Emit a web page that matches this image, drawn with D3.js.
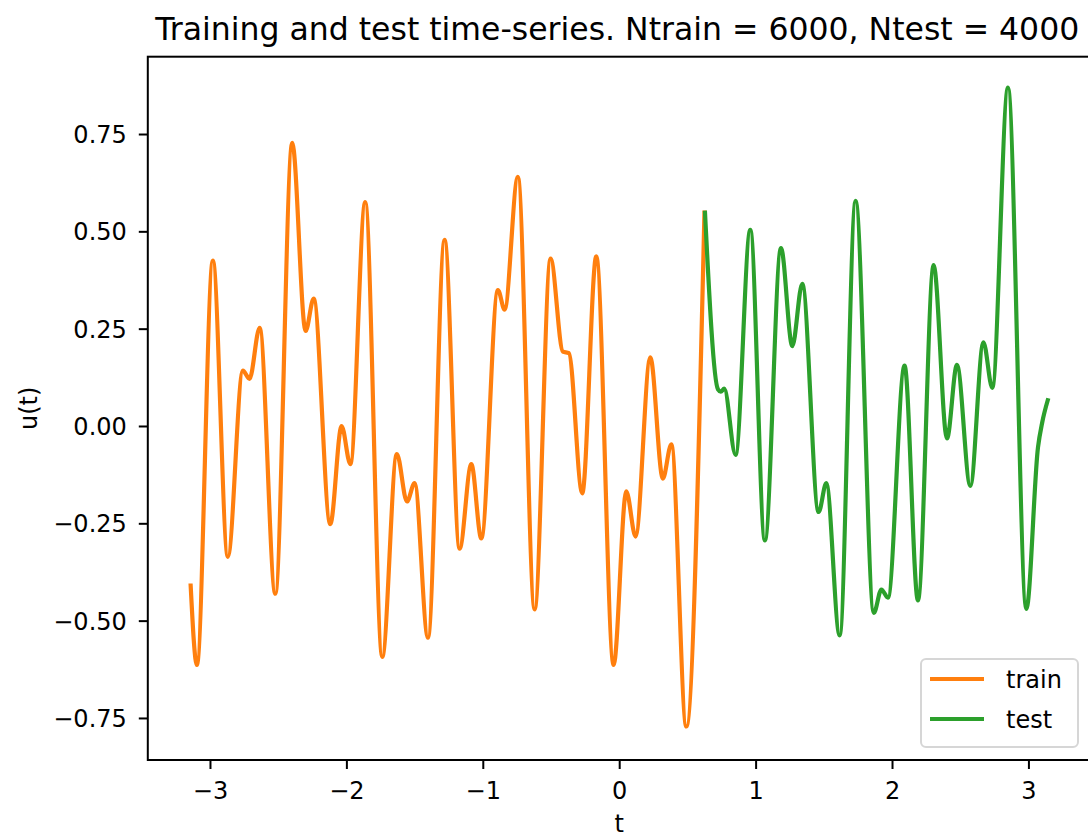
<!DOCTYPE html>
<html>
<head>
<meta charset="utf-8">
<script src="https://cdn.jsdelivr.net/npm/d3@7"></script>
<style>
  body { margin: 0; background: #fff; }
  svg { display: block; font-family: "DejaVu Sans", sans-serif; }
  .axis text { font-size: 24px; fill: #000; font-family: "DejaVu Sans", sans-serif; }
  .axis line { stroke: #000; stroke-width: 2; }
</style>
</head>
<body>
<svg id="chart" width="1088" height="835"></svg>
<script>
// Values (t, u(t)) at the turning points of the curves
const trainT = [-3.1416, -3.096, -2.979, -2.869, -2.759, -2.710, -2.636, -2.521, -2.397, -2.299,
  -2.240, -2.118, -2.035, -1.971, -1.862, -1.737, -1.630, -1.556, -1.500, -1.402,
  -1.280, -1.170, -1.084, -1.011, -0.889, -0.840, -0.743, -0.620, -0.503, -0.413,
  -0.369, -0.271, -0.168, -0.041, 0.052, 0.120, 0.228, 0.320, 0.382, 0.492, 0.625]
const trainU = [-0.410, -0.614, 0.425, -0.336, 0.142, 0.121, 0.252, -0.431, 0.727, 0.244,
  0.327, -0.252, 0.000, -0.098, 0.575, -0.593, -0.072, -0.194, -0.147, -0.544,
  0.478, -0.315, -0.098, -0.289, 0.349, 0.299, 0.640, -0.471, 0.430, 0.191,
  0.187, -0.173, 0.436, -0.614, -0.168, -0.284, 0.176, -0.135, -0.047, -0.772, 0.548]

const testT = [0.629, 0.724, 0.745, 0.770, 0.853, 0.961, 1.068, 1.186, 1.269, 1.342,
  1.462, 1.518, 1.616, 1.733, 1.867, 1.922, 1.970, 2.092, 2.190, 2.305,
  2.403, 2.476, 2.574, 2.670, 2.735, 2.850, 2.985, 3.070, 3.101, 3.1416]
const testU = [0.548, 0.094, 0.088, 0.096, -0.074, 0.504, -0.294, 0.457, 0.205, 0.365,
  -0.221, -0.147, -0.538, 0.578, -0.480, -0.420, -0.441, 0.155, -0.448, 0.413,
  -0.032, 0.157, -0.154, 0.215, 0.098, 0.869, -0.470, -0.055, 0.009, 0.066]

const xTicks = [-3, -2, -1, 0, 1, 2, 3]
const yTicks = [-0.75, -0.5, -0.25, 0, 0.25, 0.5, 0.75]
const seriesNames = ["train", "test"]
const seriesColors = ["#ff7f0e", "#2ca02c"]

const svg = d3.select("#chart")

const dimensions = { left: 147.8, right: 1090.6, top: 56.7, bottom: 760 }

const xScale = d3.scaleLinear()
  .domain([-3.4558, 3.4558])
  .range([dimensions.left, dimensions.right])
const yScale = d3.scaleLinear()
  .domain([-0.858, 0.9486])
  .range([dimensions.bottom, dimensions.top])

// lines
const lineGen = d3.line()
  .x(d => xScale(d[0]))
  .y(d => yScale(d[1]))
  .curve(d3.curveMonotoneX)

const series = [d3.zip(trainT, trainU), d3.zip(testT, testU)]
series.forEach((pts, i) => {
  svg.append("path")
    .datum(pts)
    .attr("d", lineGen)
    .attr("fill", "none")
    .attr("stroke", seriesColors[i])
    .attr("stroke-width", 4.2)
    .attr("stroke-linejoin", "round")
    .attr("stroke-linecap", "square")
})

// axes
svg.append("g")
  .attr("class", "axis")
  .attr("transform", `translate(0,${dimensions.bottom})`)
  .call(d3.axisBottom(xScale).tickValues(xTicks).tickSize(9).tickPadding(13).tickFormat(d3.format("d")))
const yAxis = svg.append("g")
  .attr("class", "axis")
  .attr("transform", `translate(${dimensions.left},0)`)
  .call(d3.axisLeft(yScale).tickValues(yTicks).tickSize(9).tickPadding(12).tickFormat(d3.format(".2f")))
yAxis.selectAll("text").attr("dy", "0.36em")
svg.selectAll(".axis .domain").remove()
svg.selectAll(".axis").attr("font-family", null).attr("font-size", null)

// frame
svg.append("rect")
  .attr("x", dimensions.left)
  .attr("y", dimensions.top)
  .attr("width", dimensions.right - dimensions.left)
  .attr("height", dimensions.bottom - dimensions.top)
  .attr("fill", "none")
  .attr("stroke", "#000")
  .attr("stroke-width", 2)

// labels
svg.append("text")
  .attr("x", (dimensions.left + dimensions.right) / 2 - 2)
  .attr("y", 40)
  .attr("text-anchor", "middle")
  .attr("font-size", 31.5)
  .text("Training and test time-series. Ntrain = 6000, Ntest = 4000")
svg.append("text")
  .attr("x", (dimensions.left + dimensions.right) / 2)
  .attr("y", 832)
  .attr("text-anchor", "middle")
  .attr("font-size", 24)
  .text("t")
svg.append("text")
  .attr("transform", `translate(37,${(dimensions.top + dimensions.bottom) / 2}) rotate(-90)`)
  .attr("text-anchor", "middle")
  .attr("font-size", 24)
  .text("u(t)")

// legend
const legend = svg.append("g").attr("transform", "translate(921,659)")
legend.append("rect")
  .attr("width", 157)
  .attr("height", 88)
  .attr("rx", 5)
  .attr("fill", "#fff")
  .attr("fill-opacity", 0.8)
  .attr("stroke", "#d6d6d6")
  .attr("stroke-width", 2)
seriesNames.forEach((name, i) => {
  const row = legend.append("g").attr("transform", `translate(0,${20 + i * 40})`)
  row.append("line")
    .attr("x1", 9).attr("x2", 63)
    .attr("stroke", seriesColors[i])
    .attr("stroke-width", 4.2)
  row.append("text")
    .attr("x", 85)
    .attr("y", 9)
    .attr("font-size", 24)
    .text(name)
})
</script>
</body>
</html>
